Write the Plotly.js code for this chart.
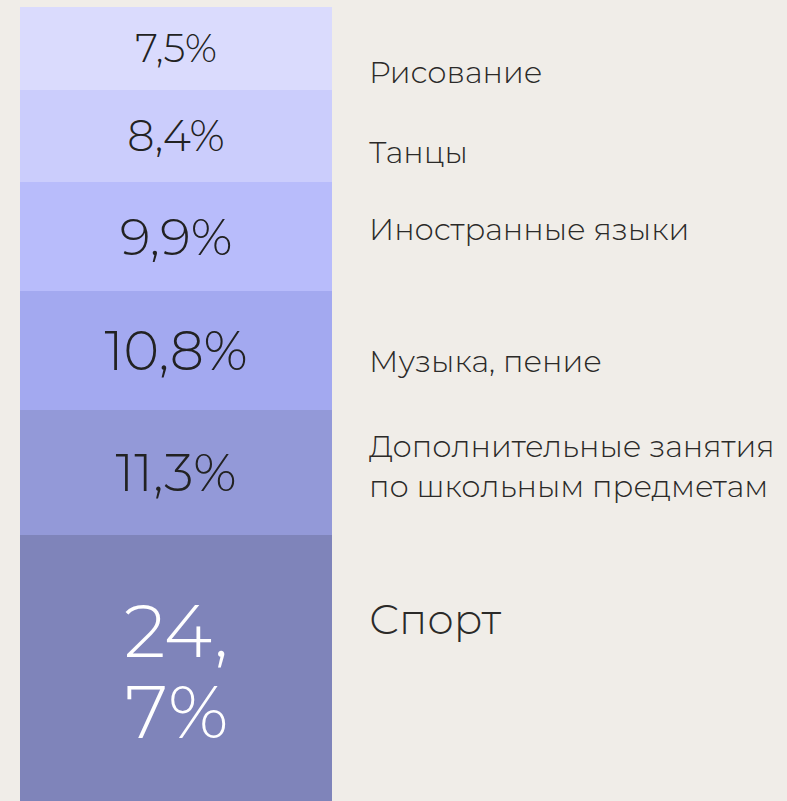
<!DOCTYPE html>
<html>
<head>
<meta charset="utf-8">
<script src="https://cdn.plot.ly/plotly-3.0.1.min.js"></script>
<style>
html,body{margin:0;padding:0;background:#F0EDE8;}
#chart{width:787px;height:801px;}
</style>
</head>
<body>
<div id="chart"></div>
<script>
// Data
const categories = ["Рисование", "Танцы", "Иностранные языки", "Музыка, пение", "Дополнительные занятия<br>по школьным предметам", "Спорт"];
const values = [7.5, 8.4, 9.9, 10.8, 11.3, 24.7];
const valueLabels = ["7,5%", "8,4%", "9,9%", "10,8%", "11,3%", "24,7%"];
// the largest value is written on two lines: "24," / "7%"
const splitLabelParts = ["24,", "7%"];

// Styles
const colors = ["#DADBFD", "#CBCDFC", "#B8BCFB", "#A3A9F0", "#9399D8", "#7F84BA"];
const valueFontSizes = [39, 43, 51, 54, 53, 74];
const valueFontColors = ["#222222", "#222222", "#222222", "#222222", "#222222", "#FFFFFF"];
const labelFontSizes = [30.5, 30.5, 30.5, 30.5, 30.5, 42];
const labelShift = [-24, -16, 8, -10, 6, 52];
const splitLineShift = [40, -41];
const FONT = "Montserrat, Inter, 'Open Sans', sans-serif";
const LAST = categories.length - 1;

const traces = categories.map((c, i) => ({
  type: "bar",
  x: [0],
  y: [values[i]],
  width: [1],
  name: c,
  marker: {color: colors[i], line: {width: 0}},
  text: [valueLabels[i]],
  texttemplate: "%{text}",
  textposition: i === LAST ? "none" : "inside",
  insidetextanchor: "middle",
  textangle: 0,
  constraintext: "none",
  textfont: {family: FONT, size: valueFontSizes[i], color: valueFontColors[i], weight: 300},
  hoverinfo: "skip"
}));

let cum = 0;
const mids = values.map(v => { const m = cum + v / 2; cum += v; return m; });

const annotations = categories.map((c, i) => ({
  xref: "paper", yref: "y",
  x: 1 + 35 / 312, y: mids[i],
  yshift: labelShift[i],
  xanchor: "left", yanchor: "middle", align: "left",
  text: c, showarrow: false,
  font: {family: FONT, size: labelFontSizes[i], color: "#2B2A28", weight: 300}
}));

splitLabelParts.forEach((part, k) => {
  annotations.push({
    xref: "x", yref: "y",
    x: 0, y: mids[LAST],
    yshift: splitLineShift[k],
    xanchor: "center", yanchor: "middle",
    text: part, showarrow: false,
    font: {family: FONT, size: valueFontSizes[LAST], color: valueFontColors[LAST], weight: 300}
  });
});

const layout = {
  width: 787, height: 801,
  margin: {l: 20, r: 455, t: 7, b: 0, pad: 0},
  paper_bgcolor: "#F0EDE8",
  plot_bgcolor: "rgba(0,0,0,0)",
  barmode: "stack",
  bargap: 0,
  showlegend: false,
  xaxis: {range: [-0.5, 0.5], visible: false, fixedrange: true},
  yaxis: {range: [72.1, 0], visible: false, fixedrange: true},
  annotations: annotations
};

Plotly.newPlot("chart", traces, layout, {displayModeBar: false, staticPlot: true});
</script>
</body>
</html>
